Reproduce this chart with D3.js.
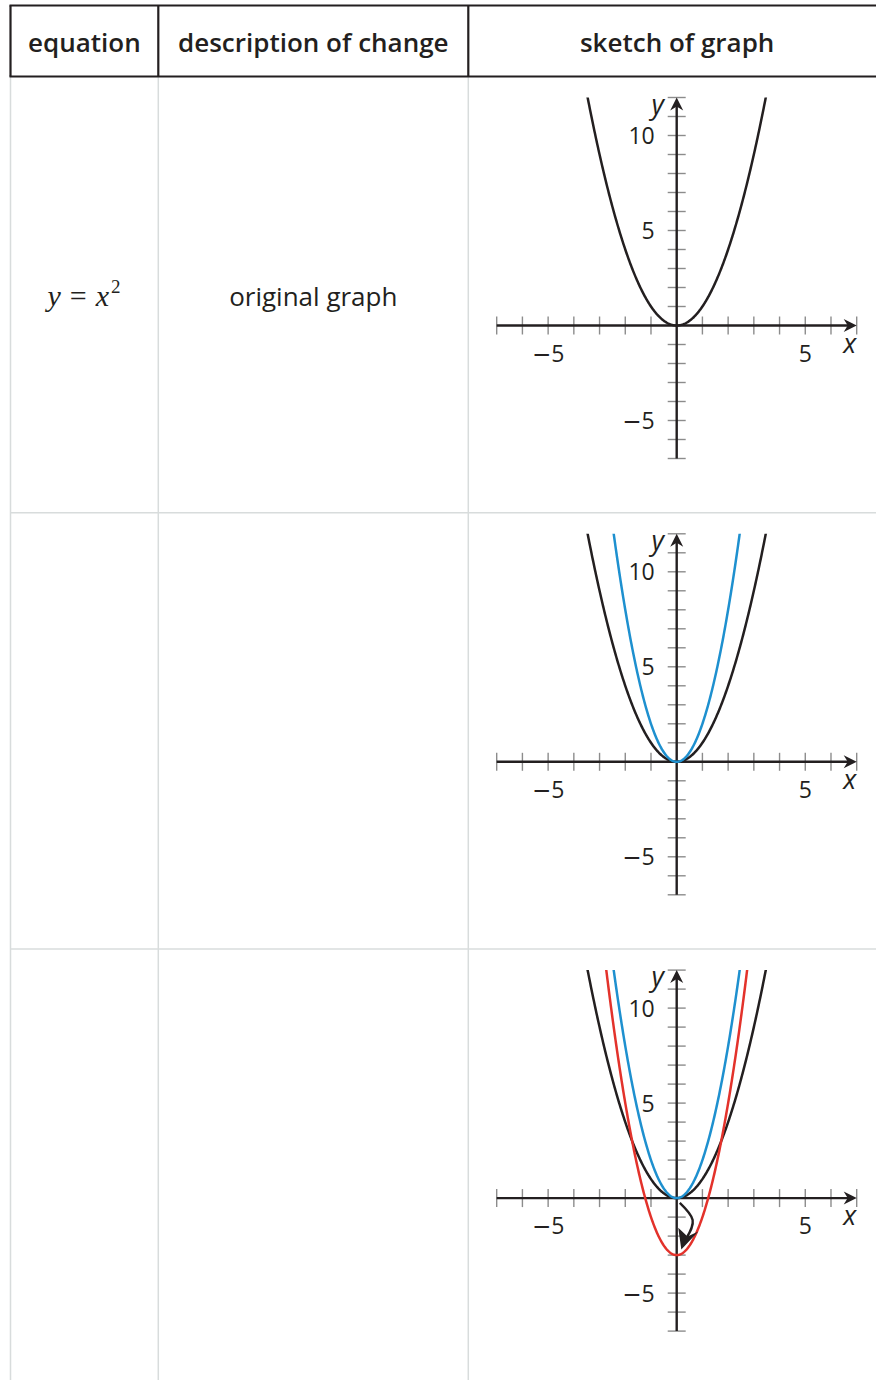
<!DOCTYPE html>
<head>
  <style>
    body { margin: 0; background: #fff; }
    text { font-family: "Open Sans", sans-serif; fill: #231f20; }
  </style>
  <title>transformations of y = x^2</title>
</head>
<body>
  <script src="https://cdn.jsdelivr.net/npm/d3@7/dist/d3.min.js"></script>
  <script>
    // table content
    var headers = ["equation", "description of change", "sketch of graph"];
    var descriptions = ["original graph", "", ""];
    var rowCount = 3;

    // curves y = a*x^2 + k, shown cumulatively: row i shows curves 0..i
    var curveA = [1, 2, 2];
    var curveK = [0, 0, -3];
    var curveColors = ["#231f20", "#1e90cf", "#e3322b"];

    // axis ticks
    var xTicks = d3.range(-7, 8);
    var yTicks = d3.range(-7, 13);
    var xLabels = [-5, 5];
    var yLabels = [-5, 5, 10];

    // arrow showing the shift down (data units, row 3)
    var shiftArrow = [[0.12, -0.25], [0.62, -1.15], [0.38, -2.1]];
    var shiftHead = [[0.18, -2.7], [0.84, -1.76], [0.42, -2.02], [0.06, -1.56]];

    // layout
    var W = 876, H = 1380;
    var colEdges = [10.5, 158.3, 468.3, 886];
    var headTop = 5.5, headBottom = 76.5;
    var rowH = 436.3;
    var dark = "#231f20", gridGray = "#d8dcdc", tickGray = "#8c8c8c";

    var svg = d3.select("body").append("svg")
      .attr("width", W)
      .attr("height", H);

    // body grid lines (light)
    var grid = svg.append("g").attr("id", "grid");
    colEdges.slice(0, 3).forEach(function(x) {
      grid.append("line")
        .attr("x1", x).attr("x2", x)
        .attr("y1", headBottom).attr("y2", H)
        .attr("stroke", gridGray).attr("stroke-width", 1.5);
    });
    d3.range(1, rowCount).forEach(function(i) {
      grid.append("line")
        .attr("x1", colEdges[0]).attr("x2", W)
        .attr("y1", headBottom + i * rowH).attr("y2", headBottom + i * rowH)
        .attr("stroke", gridGray).attr("stroke-width", 1.5);
    });

    // header box (dark)
    var head = svg.append("g").attr("id", "header");
    head.append("line").attr("x1", colEdges[0] - 1).attr("x2", W)
      .attr("y1", headTop).attr("y2", headTop);
    head.append("line").attr("x1", colEdges[0] - 1).attr("x2", W)
      .attr("y1", headBottom).attr("y2", headBottom);
    colEdges.slice(0, 3).forEach(function(x) {
      head.append("line").attr("x1", x).attr("x2", x)
        .attr("y1", headTop).attr("y2", headBottom);
    });
    head.selectAll("line").attr("stroke", dark).attr("stroke-width", 2.2);

    head.selectAll("text")
      .data(headers)
      .enter().append("text")
      .attr("x", function(d, i) { return (colEdges[i] + colEdges[i + 1]) / 2; })
      .attr("y", 52)
      .attr("text-anchor", "middle")
      .style("font-size", "26px")
      .style("font-weight", 600)
      .text(function(d) { return d; });

    // equation of first row
    var eq = svg.append("text")
      .attr("x", 84)
      .attr("y", 306)
      .attr("text-anchor", "middle")
      .style("font-family", "'Liberation Serif', 'DejaVu Serif', serif")
      .style("font-size", "30px");
    eq.append("tspan").style("font-style", "italic").text("y");
    eq.append("tspan").attr("dx", 9).text("=");
    eq.append("tspan").attr("dx", 9).style("font-style", "italic").text("x");
    eq.append("tspan").attr("dx", 2).attr("dy", -13).style("font-size", "19px").text("2");

    // descriptions
    svg.selectAll(".desc")
      .data(descriptions)
      .enter().append("text")
      .attr("class", "desc")
      .attr("x", (colEdges[1] + colEdges[2]) / 2)
      .attr("y", function(d, i) { return 306 + i * rowH; })
      .attr("text-anchor", "middle")
      .style("font-size", "26px")
      .text(function(d) { return d; });

    // arrowhead path builder (pixel tip, direction angle)
    function arrowHead(g, px, py, angle) {
      var len = 13, half = 6.5, notch = 9;
      var pts = [[0, 0], [-len, -half], [-notch, 0], [-len, half]];
      var c = Math.cos(angle), s = Math.sin(angle);
      var p = pts.map(function(q) { return [px + q[0] * c - q[1] * s, py + q[0] * s + q[1] * c]; });
      g.append("path")
        .attr("d", "M" + p.join("L") + "Z")
        .attr("fill", dark);
    }

    // tick label with a long math minus sign
    function signedLabel(sel) {
      sel.each(function(d) {
        var t = d3.select(this);
        if (d < 0) {
          t.append("tspan").style("font-family", "'DejaVu Sans', sans-serif").text("\u2212");
        }
        t.append("tspan").text(Math.abs(d));
      });
    }

    // one graph per row
    d3.range(rowCount).forEach(function(r) {
      var top = headBottom + r * rowH;
      var x = d3.scaleLinear().domain([-7, 7]).range([496.7, 856.7]);
      var y = d3.scaleLinear().domain([-7, 12]).range([top + 382, top + 21]);

      var g = svg.append("g").attr("class", "graph");

      var clipId = "clip" + r;
      g.append("clipPath").attr("id", clipId)
        .append("rect")
        .attr("x", x(-7)).attr("y", y(12))
        .attr("width", x(7) - x(-7)).attr("height", y(-7) - y(12));

      // ticks
      g.selectAll(".xt").data(xTicks.filter(function(d) { return d !== 0; }))
        .enter().append("line").attr("class", "xt")
        .attr("x1", function(d) { return x(d); }).attr("x2", function(d) { return x(d); })
        .attr("y1", y(0) - 9).attr("y2", y(0) + 9)
        .attr("stroke", tickGray).attr("stroke-width", 1.4);
      g.selectAll(".yt").data(yTicks.filter(function(d) { return d !== 0; }))
        .enter().append("line").attr("class", "yt")
        .attr("y1", function(d) { return y(d); }).attr("y2", function(d) { return y(d); })
        .attr("x1", x(0) - 9).attr("x2", x(0) + 9)
        .attr("stroke", tickGray).attr("stroke-width", 1.4);

      // axes
      g.append("line")
        .attr("x1", x(-7)).attr("x2", x(7) - 6)
        .attr("y1", y(0)).attr("y2", y(0))
        .attr("stroke", dark).attr("stroke-width", 2.4);
      g.append("line")
        .attr("x1", x(0)).attr("x2", x(0))
        .attr("y1", y(-7)).attr("y2", y(12) + 6)
        .attr("stroke", dark).attr("stroke-width", 2.4);
      arrowHead(g, x(7), y(0), 0);
      arrowHead(g, x(0), y(12), -Math.PI / 2);

      // tick labels
      g.selectAll(".xl").data(xLabels)
        .enter().append("text").attr("class", "xl")
        .attr("x", function(d) { return x(d); })
        .attr("y", y(0) + 36)
        .attr("text-anchor", "middle")
        .style("font-size", "23px")
        .call(signedLabel);
      g.selectAll(".yl").data(yLabels)
        .enter().append("text").attr("class", "yl")
        .attr("x", x(0) - 22)
        .attr("y", function(d) { return y(d) + 8.5; })
        .attr("text-anchor", "end")
        .style("font-size", "23px")
        .call(signedLabel);

      // axis names
      g.append("text")
        .attr("x", x(7) - 7).attr("y", y(0) + 27)
        .attr("text-anchor", "middle")
        .style("font-size", "27px").style("font-style", "italic")
        .text("x");
      g.append("text")
        .attr("x", x(0) - 19).attr("y", y(12) + 16)
        .attr("text-anchor", "middle")
        .style("font-size", "27px").style("font-style", "italic")
        .text("y");

      // curves
      var line = d3.line()
        .x(function(d) { return x(d[0]); })
        .y(function(d) { return y(d[1]); });
      var cg = g.append("g").attr("clip-path", "url(#" + clipId + ")");
      d3.range(r + 1).forEach(function(c) {
        var pts = d3.range(-4, 4.001, 0.02).map(function(t) {
          return [t, curveA[c] * t * t + curveK[c]];
        });
        cg.append("path")
          .attr("d", line(pts))
          .attr("fill", "none")
          .attr("stroke", curveColors[c])
          .attr("stroke-width", 2.5);
      });

      // shift arrow on last row
      if (r === 2) {
        g.append("path")
          .attr("d", line.curve(d3.curveNatural)(shiftArrow))
          .attr("fill", "none")
          .attr("stroke", dark)
          .attr("stroke-width", 2.4);
        g.append("path")
          .attr("d", line.curve(d3.curveLinear)(shiftHead) + "Z")
          .attr("fill", dark);
      }
    });
  </script>
</body>
